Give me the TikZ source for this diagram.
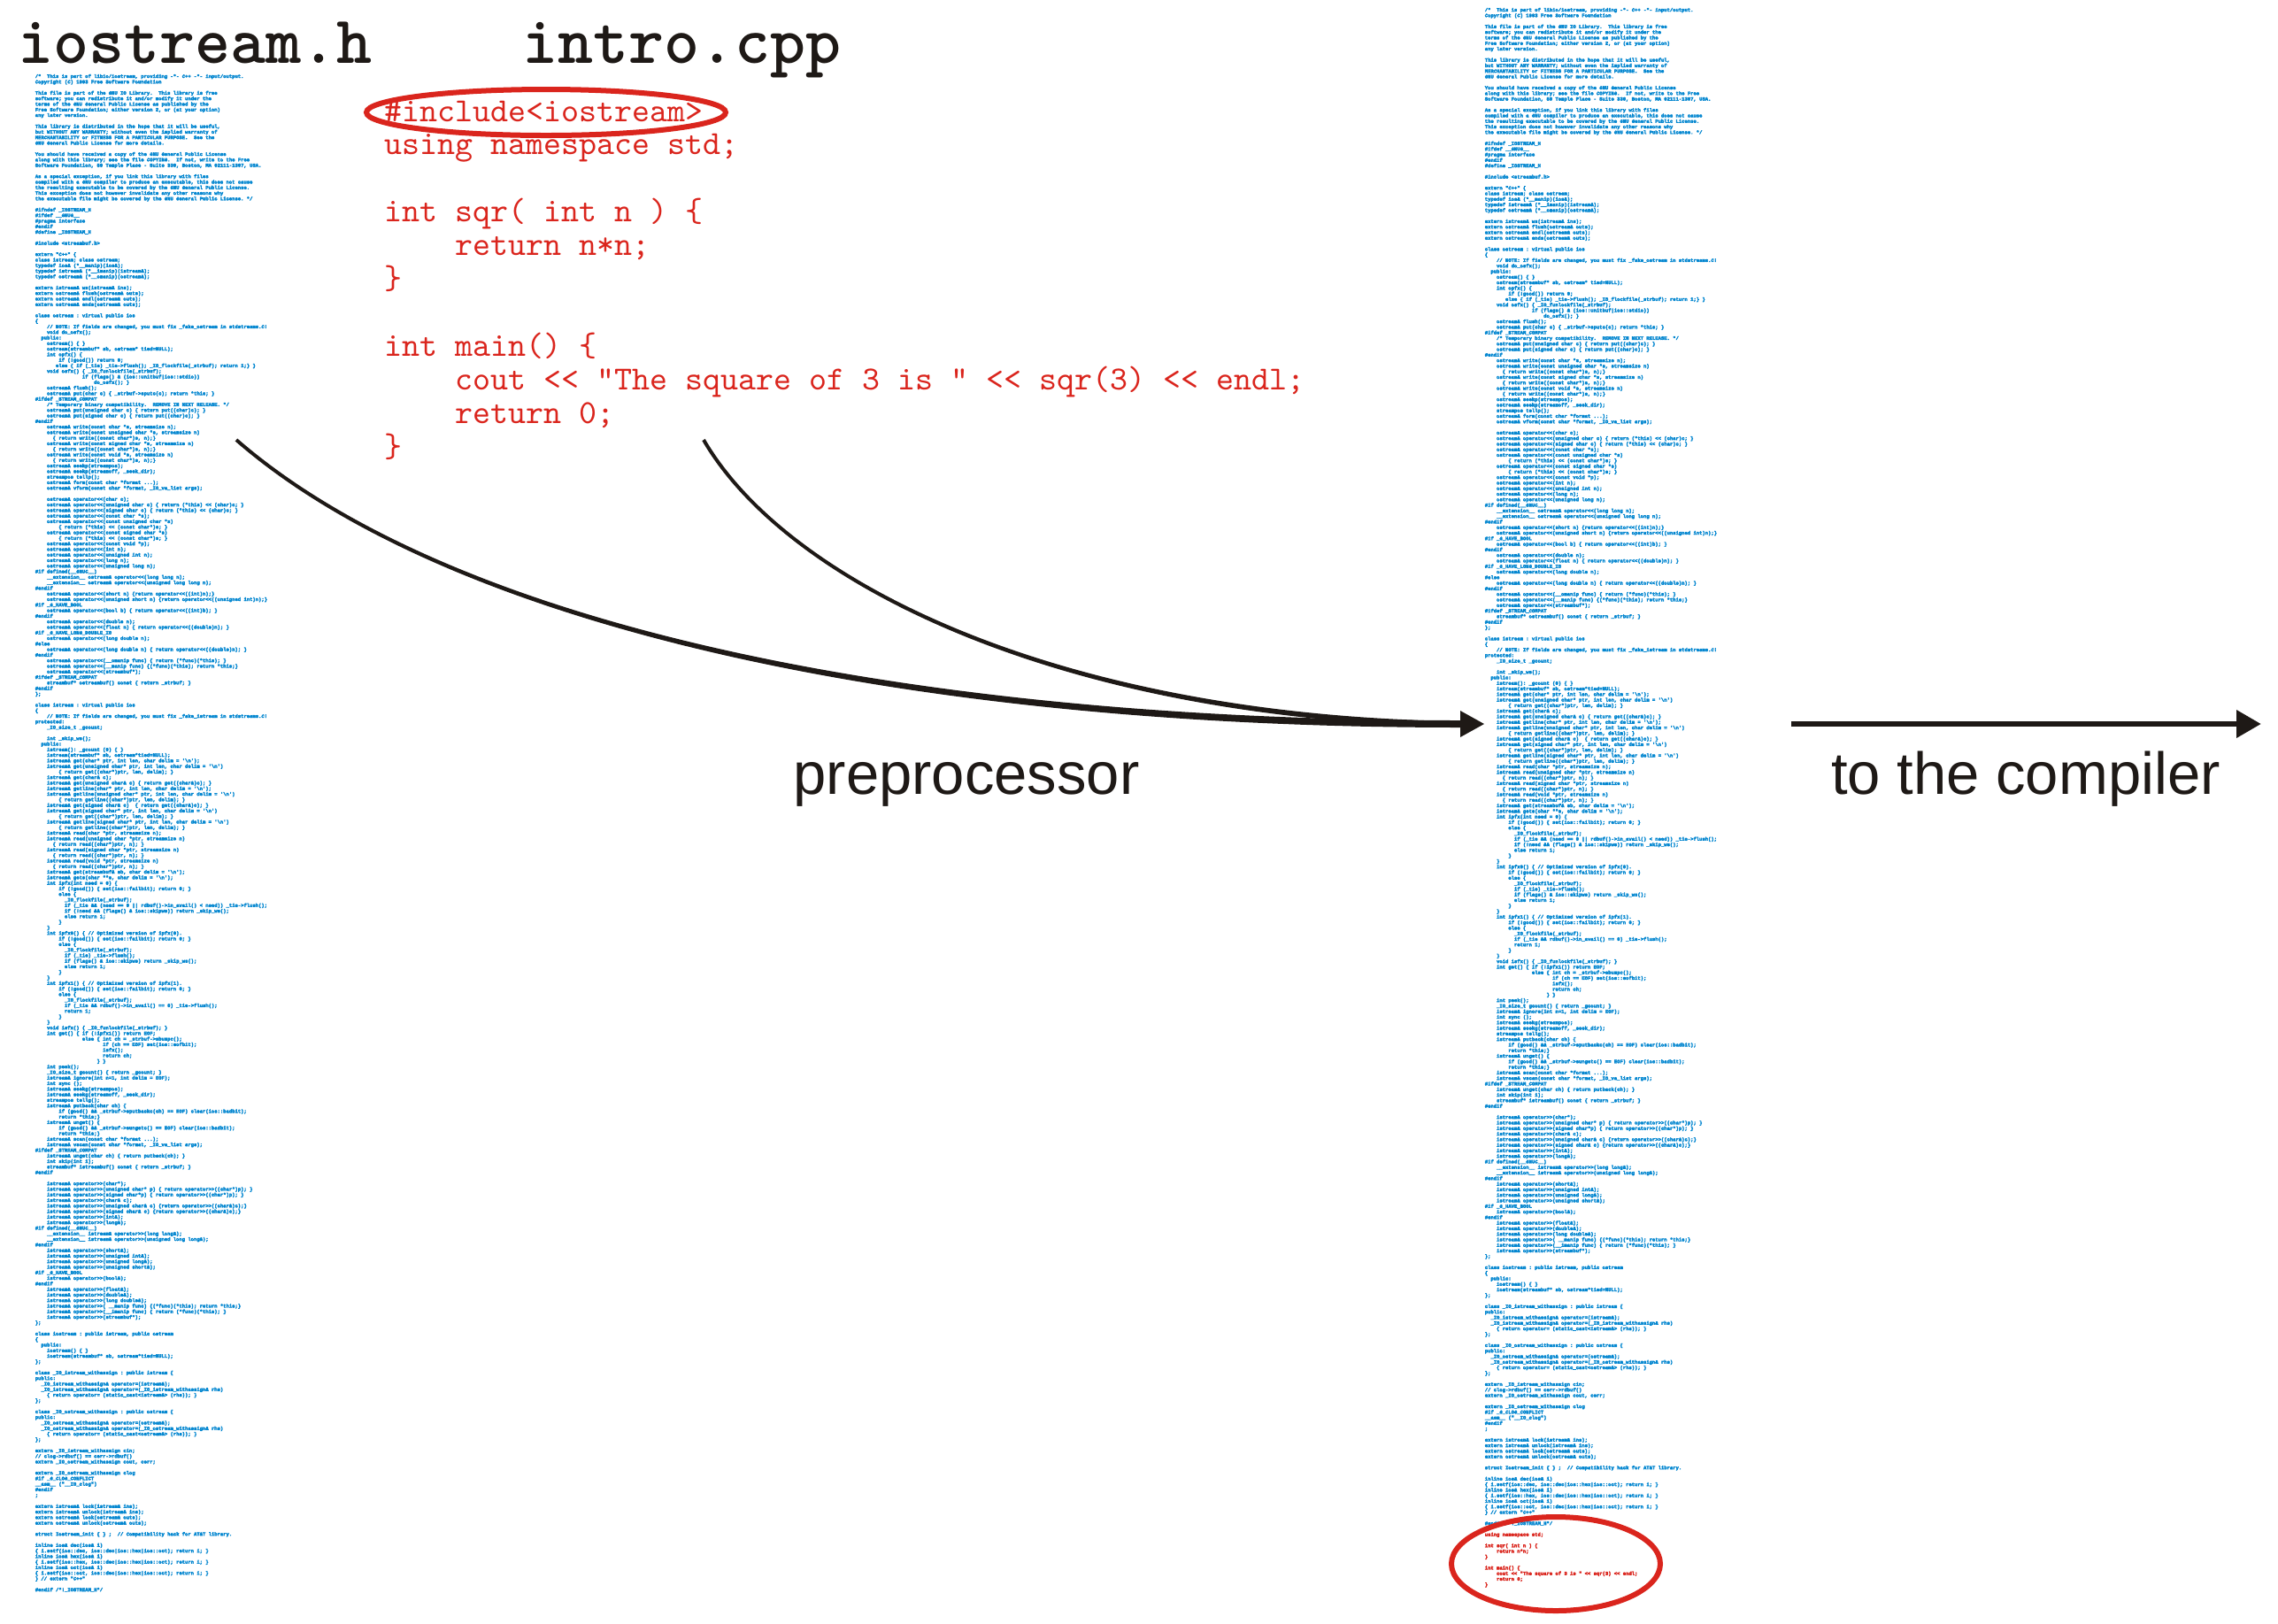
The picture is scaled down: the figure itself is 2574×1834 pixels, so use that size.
\documentclass[tikz,border=0pt]{standalone}
\usepackage{fontspec}
\newfontfamily\sansf{Liberation Sans}
\newfontfamily\tinymono{Liberation Mono}[BoldFeatures={FakeBold=6}]
\usetikzlibrary{calc,arrows.meta}
\definecolor{codered}{RGB}{218,37,29}
\definecolor{codeblue}{RGB}{5,135,208}
\definecolor{ink}{RGB}{30,25,22}
\newcommand\CL[1]{\hbox{#1}}
\newcommand\RL[1]{\hbox{\color{codered}#1}}
\newcommand\Ind[1]{\hspace*{#1\fontcharwd\font`\ }}
\newcommand\codecol[2]{\vtop{\baselineskip=#1\relax\lineskiplimit=-100pt\lineskip=0pt\frenchspacing#2}}
\newcommand\IOS{%
\CL{/*~ This is part of libio/iostream, providing -*- C++ -*- input/output.}
\CL{Copyright (C) 1993 Free Software Foundation}
\CL{}
\CL{This file is part of the GNU IO Library.~ This library is free}
\CL{software; you can redistribute it and/or modify it under the}
\CL{terms of the GNU General Public License as published by the}
\CL{Free Software Foundation; either version 2, or (at your option)}
\CL{any later version.}
\CL{}
\CL{This library is distributed in the hope that it will be useful,}
\CL{but WITHOUT ANY WARRANTY; without even the implied warranty of}
\CL{MERCHANTABILITY or FITNESS FOR A PARTICULAR PURPOSE.~ See the}
\CL{GNU General Public License for more details.}
\CL{}
\CL{You should have received a copy of the GNU General Public License}
\CL{along with this library; see the file COPYING.~ If not, write to the Free}
\CL{Software Foundation, 59 Temple Place - Suite 330, Boston, MA 02111-1307, USA.}
\CL{}
\CL{As a special exception, if you link this library with files}
\CL{compiled with a GNU compiler to produce an executable, this does not cause}
\CL{the resulting executable to be covered by the GNU General Public License.}
\CL{This exception does not however invalidate any other reasons why}
\CL{the executable file might be covered by the GNU General Public License. */}
\CL{}
\CL{\#ifndef \_IOSTREAM\_H}
\CL{\#ifdef \_\_GNUG\_\_}
\CL{\#pragma interface}
\CL{\#endif}
\CL{\#define \_IOSTREAM\_H}
\CL{}
\CL{\#include <streambuf.h>}
\CL{}
\CL{extern "C++" \{}
\CL{class istream; class ostream;}
\CL{typedef ios\& (*\_\_manip)(ios\&);}
\CL{typedef istream\& (*\_\_imanip)(istream\&);}
\CL{typedef ostream\& (*\_\_omanip)(ostream\&);}
\CL{}
\CL{extern istream\& ws(istream\& ins);}
\CL{extern ostream\& flush(ostream\& outs);}
\CL{extern ostream\& endl(ostream\& outs);}
\CL{extern ostream\& ends(ostream\& outs);}
\CL{}
\CL{class ostream : virtual public ios}
\CL{\{}
\CL{\Ind{4}// NOTE: If fields are changed, you must fix \_fake\_ostream in stdstreams.C!}
\CL{\Ind{4}void do\_osfx();}
\CL{\Ind{2}public:}
\CL{\Ind{4}ostream() \{ \}}
\CL{\Ind{4}ostream(streambuf* sb, ostream* tied=NULL);}
\CL{\Ind{4}int opfx() \{}
\CL{\Ind{8}if (!good()) return 0;}
\CL{\Ind{7}else \{ if (\_tie) \_tie->flush(); \_IO\_flockfile(\_strbuf); return 1;\} \}}
\CL{\Ind{4}void osfx() \{ \_IO\_funlockfile(\_strbuf);}
\CL{\Ind{16}if (flags() \& (ios::unitbuf|ios::stdio))}
\CL{\Ind{20}do\_osfx(); \}}
\CL{\Ind{4}ostream\& flush();}
\CL{\Ind{4}ostream\& put(char c) \{ \_strbuf->sputc(c); return *this; \}}
\CL{\#ifdef \_STREAM\_COMPAT}
\CL{\Ind{4}/* Temporary binary compatibility.~ REMOVE IN NEXT RELEASE. */}
\CL{\Ind{4}ostream\& put(unsigned char c) \{ return put((char)c); \}}
\CL{\Ind{4}ostream\& put(signed char c) \{ return put((char)c); \}}
\CL{\#endif}
\CL{\Ind{4}ostream\& write(const char *s, streamsize n);}
\CL{\Ind{4}ostream\& write(const unsigned char *s, streamsize n)}
\CL{\Ind{6}\{ return write((const char*)s, n);\}}
\CL{\Ind{4}ostream\& write(const signed char *s, streamsize n)}
\CL{\Ind{6}\{ return write((const char*)s, n);\}}
\CL{\Ind{4}ostream\& write(const void *s, streamsize n)}
\CL{\Ind{6}\{ return write((const char*)s, n);\}}
\CL{\Ind{4}ostream\& seekp(streampos);}
\CL{\Ind{4}ostream\& seekp(streamoff, \_seek\_dir);}
\CL{\Ind{4}streampos tellp();}
\CL{\Ind{4}ostream\& form(const char *format ...);}
\CL{\Ind{4}ostream\& vform(const char *format, \_IO\_va\_list args);}
\CL{}
\CL{\Ind{4}ostream\& operator<<(char c);}
\CL{\Ind{4}ostream\& operator<<(unsigned char c) \{ return (*this) << (char)c; \}}
\CL{\Ind{4}ostream\& operator<<(signed char c) \{ return (*this) << (char)c; \}}
\CL{\Ind{4}ostream\& operator<<(const char *s);}
\CL{\Ind{4}ostream\& operator<<(const unsigned char *s)}
\CL{\Ind{8}\{ return (*this) << (const char*)s; \}}
\CL{\Ind{4}ostream\& operator<<(const signed char *s)}
\CL{\Ind{8}\{ return (*this) << (const char*)s; \}}
\CL{\Ind{4}ostream\& operator<<(const void *p);}
\CL{\Ind{4}ostream\& operator<<(int n);}
\CL{\Ind{4}ostream\& operator<<(unsigned int n);}
\CL{\Ind{4}ostream\& operator<<(long n);}
\CL{\Ind{4}ostream\& operator<<(unsigned long n);}
\CL{\#if defined(\_\_GNUC\_\_)}
\CL{\Ind{4}\_\_extension\_\_ ostream\& operator<<(long long n);}
\CL{\Ind{4}\_\_extension\_\_ ostream\& operator<<(unsigned long long n);}
\CL{\#endif}
\CL{\Ind{4}ostream\& operator<<(short n) \{return operator<<((int)n);\}}
\CL{\Ind{4}ostream\& operator<<(unsigned short n) \{return operator<<((unsigned int)n);\}}
\CL{\#if \_G\_HAVE\_BOOL}
\CL{\Ind{4}ostream\& operator<<(bool b) \{ return operator<<((int)b); \}}
\CL{\#endif}
\CL{\Ind{4}ostream\& operator<<(double n);}
\CL{\Ind{4}ostream\& operator<<(float n) \{ return operator<<((double)n); \}}
\CL{\#if \_G\_HAVE\_LONG\_DOUBLE\_IO}
\CL{\Ind{4}ostream\& operator<<(long double n);}
\CL{\#else}
\CL{\Ind{4}ostream\& operator<<(long double n) \{ return operator<<((double)n); \}}
\CL{\#endif}
\CL{\Ind{4}ostream\& operator<<(\_\_omanip func) \{ return (*func)(*this); \}}
\CL{\Ind{4}ostream\& operator<<(\_\_manip func) \{(*func)(*this); return *this;\}}
\CL{\Ind{4}ostream\& operator<<(streambuf*);}
\CL{\#ifdef \_STREAM\_COMPAT}
\CL{\Ind{4}streambuf* ostreambuf() const \{ return \_strbuf; \}}
\CL{\#endif}
\CL{\};}
\CL{}
\CL{class istream : virtual public ios}
\CL{\{}
\CL{\Ind{4}// NOTE: If fields are changed, you must fix \_fake\_istream in stdstreams.C!}
\CL{protected:}
\CL{\Ind{4}\_IO\_size\_t \_gcount;}
\CL{}
\CL{\Ind{4}int \_skip\_ws();}
\CL{\Ind{2}public:}
\CL{\Ind{4}istream(): \_gcount (0) \{ \}}
\CL{\Ind{4}istream(streambuf* sb, ostream*tied=NULL);}
\CL{\Ind{4}istream\& get(char* ptr, int len, char delim = '\textbackslash n');}
\CL{\Ind{4}istream\& get(unsigned char* ptr, int len, char delim = '\textbackslash n')}
\CL{\Ind{8}\{ return get((char*)ptr, len, delim); \}}
\CL{\Ind{4}istream\& get(char\& c);}
\CL{\Ind{4}istream\& get(unsigned char\& c) \{ return get((char\&)c); \}}
\CL{\Ind{4}istream\& getline(char* ptr, int len, char delim = '\textbackslash n');}
\CL{\Ind{4}istream\& getline(unsigned char* ptr, int len, char delim = '\textbackslash n')}
\CL{\Ind{8}\{ return getline((char*)ptr, len, delim); \}}
\CL{\Ind{4}istream\& get(signed char\& c)~ \{ return get((char\&)c); \}}
\CL{\Ind{4}istream\& get(signed char* ptr, int len, char delim = '\textbackslash n')}
\CL{\Ind{8}\{ return get((char*)ptr, len, delim); \}}
\CL{\Ind{4}istream\& getline(signed char* ptr, int len, char delim = '\textbackslash n')}
\CL{\Ind{8}\{ return getline((char*)ptr, len, delim); \}}
\CL{\Ind{4}istream\& read(char *ptr, streamsize n);}
\CL{\Ind{4}istream\& read(unsigned char *ptr, streamsize n)}
\CL{\Ind{6}\{ return read((char*)ptr, n); \}}
\CL{\Ind{4}istream\& read(signed char *ptr, streamsize n)}
\CL{\Ind{6}\{ return read((char*)ptr, n); \}}
\CL{\Ind{4}istream\& read(void *ptr, streamsize n)}
\CL{\Ind{6}\{ return read((char*)ptr, n); \}}
\CL{\Ind{4}istream\& get(streambuf\& sb, char delim = '\textbackslash n');}
\CL{\Ind{4}istream\& gets(char **s, char delim = '\textbackslash n');}
\CL{\Ind{4}int ipfx(int need = 0) \{}
\CL{\Ind{8}if (!good()) \{ set(ios::failbit); return 0; \}}
\CL{\Ind{8}else \{}
\CL{\Ind{10}\_IO\_flockfile(\_strbuf);}
\CL{\Ind{10}if (\_tie \&\& (need == 0 || rdbuf()->in\_avail() < need)) \_tie->flush();}
\CL{\Ind{10}if (!need \&\& (flags() \& ios::skipws)) return \_skip\_ws();}
\CL{\Ind{10}else return 1;}
\CL{\Ind{8}\}}
\CL{\Ind{4}\}}
\CL{\Ind{4}int ipfx0() \{ // Optimized version of ipfx(0).}
\CL{\Ind{8}if (!good()) \{ set(ios::failbit); return 0; \}}
\CL{\Ind{8}else \{}
\CL{\Ind{10}\_IO\_flockfile(\_strbuf);}
\CL{\Ind{10}if (\_tie) \_tie->flush();}
\CL{\Ind{10}if (flags() \& ios::skipws) return \_skip\_ws();}
\CL{\Ind{10}else return 1;}
\CL{\Ind{8}\}}
\CL{\Ind{4}\}}
\CL{\Ind{4}int ipfx1() \{ // Optimized version of ipfx(1).}
\CL{\Ind{8}if (!good()) \{ set(ios::failbit); return 0; \}}
\CL{\Ind{8}else \{}
\CL{\Ind{10}\_IO\_flockfile(\_strbuf);}
\CL{\Ind{10}if (\_tie \&\& rdbuf()->in\_avail() == 0) \_tie->flush();}
\CL{\Ind{10}return 1;}
\CL{\Ind{8}\}}
\CL{\Ind{4}\}}
\CL{\Ind{4}void isfx() \{ \_IO\_funlockfile(\_strbuf); \}}
\CL{\Ind{4}int get() \{ if (!ipfx1()) return EOF;}
\CL{\Ind{16}else \{ int ch = \_strbuf->sbumpc();}
\CL{\Ind{23}if (ch == EOF) set(ios::eofbit);}
\CL{\Ind{23}isfx();}
\CL{\Ind{23}return ch;}
\CL{\Ind{21}\} \}}
\CL{\Ind{4}int peek();}
\CL{\Ind{4}\_IO\_size\_t gcount() \{ return \_gcount; \}}
\CL{\Ind{4}istream\& ignore(int n=1, int delim = EOF);}
\CL{\Ind{4}int sync ();}
\CL{\Ind{4}istream\& seekg(streampos);}
\CL{\Ind{4}istream\& seekg(streamoff, \_seek\_dir);}
\CL{\Ind{4}streampos tellg();}
\CL{\Ind{4}istream\& putback(char ch) \{}
\CL{\Ind{8}if (good() \&\& \_strbuf->sputbackc(ch) == EOF) clear(ios::badbit);}
\CL{\Ind{8}return *this;\}}
\CL{\Ind{4}istream\& unget() \{}
\CL{\Ind{8}if (good() \&\& \_strbuf->sungetc() == EOF) clear(ios::badbit);}
\CL{\Ind{8}return *this;\}}
\CL{\Ind{4}istream\& scan(const char *format ...);}
\CL{\Ind{4}istream\& vscan(const char *format, \_IO\_va\_list args);}
\CL{\#ifdef \_STREAM\_COMPAT}
\CL{\Ind{4}istream\& unget(char ch) \{ return putback(ch); \}}
\CL{\Ind{4}int skip(int i);}
\CL{\Ind{4}streambuf* istreambuf() const \{ return \_strbuf; \}}
\CL{\#endif}
\CL{}
\CL{\Ind{4}istream\& operator>>(char*);}
\CL{\Ind{4}istream\& operator>>(unsigned char* p) \{ return operator>>((char*)p); \}}
\CL{\Ind{4}istream\& operator>>(signed char*p) \{ return operator>>((char*)p); \}}
\CL{\Ind{4}istream\& operator>>(char\& c);}
\CL{\Ind{4}istream\& operator>>(unsigned char\& c) \{return operator>>((char\&)c);\}}
\CL{\Ind{4}istream\& operator>>(signed char\& c) \{return operator>>((char\&)c);\}}
\CL{\Ind{4}istream\& operator>>(int\&);}
\CL{\Ind{4}istream\& operator>>(long\&);}
\CL{\#if defined(\_\_GNUC\_\_)}
\CL{\Ind{4}\_\_extension\_\_ istream\& operator>>(long long\&);}
\CL{\Ind{4}\_\_extension\_\_ istream\& operator>>(unsigned long long\&);}
\CL{\#endif}
\CL{\Ind{4}istream\& operator>>(short\&);}
\CL{\Ind{4}istream\& operator>>(unsigned int\&);}
\CL{\Ind{4}istream\& operator>>(unsigned long\&);}
\CL{\Ind{4}istream\& operator>>(unsigned short\&);}
\CL{\#if \_G\_HAVE\_BOOL}
\CL{\Ind{4}istream\& operator>>(bool\&);}
\CL{\#endif}
\CL{\Ind{4}istream\& operator>>(float\&);}
\CL{\Ind{4}istream\& operator>>(double\&);}
\CL{\Ind{4}istream\& operator>>(long double\&);}
\CL{\Ind{4}istream\& operator>>( \_\_manip func) \{(*func)(*this); return *this;\}}
\CL{\Ind{4}istream\& operator>>(\_\_imanip func) \{ return (*func)(*this); \}}
\CL{\Ind{4}istream\& operator>>(streambuf*);}
\CL{\};}
\CL{}
\CL{class iostream : public istream, public ostream}
\CL{\{}
\CL{\Ind{2}public:}
\CL{\Ind{4}iostream() \{ \}}
\CL{\Ind{4}iostream(streambuf* sb, ostream*tied=NULL);}
\CL{\};}
\CL{}
\CL{class \_IO\_istream\_withassign : public istream \{}
\CL{public:}
\CL{\Ind{2}\_IO\_istream\_withassign\& operator=(istream\&);}
\CL{\Ind{2}\_IO\_istream\_withassign\& operator=(\_IO\_istream\_withassign\& rhs)}
\CL{\Ind{4}\{ return operator= (static\_cast<istream\&> (rhs)); \}}
\CL{\};}
\CL{}
\CL{class \_IO\_ostream\_withassign : public ostream \{}
\CL{public:}
\CL{\Ind{2}\_IO\_ostream\_withassign\& operator=(ostream\&);}
\CL{\Ind{2}\_IO\_ostream\_withassign\& operator=(\_IO\_ostream\_withassign\& rhs)}
\CL{\Ind{4}\{ return operator= (static\_cast<ostream\&> (rhs)); \}}
\CL{\};}
\CL{}
\CL{extern \_IO\_istream\_withassign cin;}
\CL{// clog->rdbuf() == cerr->rdbuf()}
\CL{extern \_IO\_ostream\_withassign cout, cerr;}
\CL{}
\CL{extern \_IO\_ostream\_withassign clog}
\CL{\#if \_G\_CLOG\_CONFLICT}
\CL{\_\_asm\_\_ ("\_\_IO\_clog")}
\CL{\#endif}
\CL{;}
\CL{}
\CL{extern istream\& lock(istream\& ins);}
\CL{extern istream\& unlock(istream\& ins);}
\CL{extern ostream\& lock(ostream\& outs);}
\CL{extern ostream\& unlock(ostream\& outs);}
\CL{}
\CL{struct Iostream\_init \{ \} ;~ // Compatibility hack for AT\&T library.}
\CL{}
\CL{inline ios\& dec(ios\& i)}
\CL{\{ i.setf(ios::dec, ios::dec|ios::hex|ios::oct); return i; \}}
\CL{inline ios\& hex(ios\& i)}
\CL{\{ i.setf(ios::hex, ios::dec|ios::hex|ios::oct); return i; \}}
\CL{inline ios\& oct(ios\& i)}
\CL{\{ i.setf(ios::oct, ios::dec|ios::hex|ios::oct); return i; \}}
\CL{\} // extern "C++"}
\CL{}
\CL{\#endif /*!\_IOSTREAM\_H*/}%
}
\tikzset{
  titlefont/.style={inner sep=0pt, text=ink, font=\ttfamily\bfseries\fontsize{19.05pt}{22pt}\selectfont},
  bigcode/.style={inner sep=0pt, text=codered, font=\ttfamily\fontsize{9.52pt}{9.475pt}\selectfont},
  tinycode/.style={inner sep=0pt, text=codeblue, font=\tinymono\bfseries\fontsize{1.383pt}{1.5718pt}\selectfont},
  lbl/.style={inner sep=0pt, text=ink, font=\sansf\fontsize{16.75pt}{20pt}\selectfont},
  ring/.style={draw=codered, line width=1.5pt},
}
\begin{document}
\begin{tikzpicture}[x=0.25pt,y=-0.25pt]
\useasboundingbox (0,0) rectangle (2574,1834);
% titles
\node[titlefont, anchor=base west] (ioh) at (20,71) {iostream.h};
\node[titlefont, anchor=base west] (intro) at (590,71) {intro.cpp};
% source program
\node[bigcode, anchor=base west] (src) at (434,137) {\codecol{9.475pt}{%
\CL{\#include<iostream>}
\CL{using namespace std;}
\CL{}
\CL{int sqr( int n ) \{}
\CL{\Ind{4}return n*n;}
\CL{\}}
\CL{}
\CL{int main() \{}
\CL{\Ind{4}cout << "The square of 3 is " << sqr(3) << endl;}
\CL{\Ind{4}return 0;}
\CL{\}}}};
% header listing
\node[tinycode, anchor=base west] (hdr) at (39,88) {\codecol{1.5718pt}{\IOS}};
% preprocessed output
\node[tinycode, anchor=base west] (out) at (1677,13) {\codecol{1.5718pt}{\IOS
\CL{}
\RL{using namespace std;}
\RL{}
\RL{int sqr( int n ) \{}
\RL{\Ind{4}return n*n;}
\RL{\}}
\RL{}
\RL{int main() \{}
\RL{\Ind{4}cout << "The square of 3 is " << sqr(3) << endl;}
\RL{\Ind{4}return 0;}
\RL{\}}}};
% rings
\draw[ring] (617,127) ellipse [x radius=203, y radius=26];
\draw[ring] (1758,1767) ellipse [x radius=118, y radius=53];
% preprocessor connectors
\coordinate (c1s) at (267,497);
\coordinate (c1a) at (500,700);
\coordinate (c1b) at (1000,818);
\coordinate (c2s) at (795,497);
\coordinate (c2a) at (890,660);
\coordinate (c2b) at (1200,812);
\coordinate (hb) at (1652,818);
\coordinate (tip1) at (1677,818);
\fill[ink] ($(c1s)+(1.3,-1.5)$) .. controls ($(c1a)+(1.3,-1.5)$) and ($(c1b)+(0,-4)$) .. ($(hb)+(0,-4)$)
  -- ($(hb)+(0,4)$) .. controls ($(c1b)+(0,4)$) and ($(c1a)+(-1.3,1.5)$) .. ($(c1s)+(-1.3,1.5)$) -- cycle;
\fill[ink] ($(c2s)+(1.65,-1.13)$) .. controls ($(c2a)+(1.65,-1.13)$) and ($(c2b)+(0,-3)$) .. ($(hb)+(0,-3)$)
  -- ($(hb)+(0,3)$) .. controls ($(c2b)+(0,3)$) and ($(c2a)+(-1.65,1.13)$) .. ($(c2s)+(-1.65,1.13)$) -- cycle;
\fill[ink] (tip1) -- ($(tip1)+(-27,-15)$) -- ($(tip1)+(-27,15)$) -- cycle;
% to the compiler
\coordinate (a2s) at (2024,818);
\coordinate (tip2) at (2555,818);
\draw[ink, line width=1.7pt, -{Triangle[length=7pt,width=7.5pt]}] (a2s) -- (tip2);
% labels
\node[lbl, anchor=base] (pre) at (1092,897) {preprocessor};
\node[lbl, anchor=base] (comp) at (2289,897) {to the compiler};
\end{tikzpicture}
\end{document}
